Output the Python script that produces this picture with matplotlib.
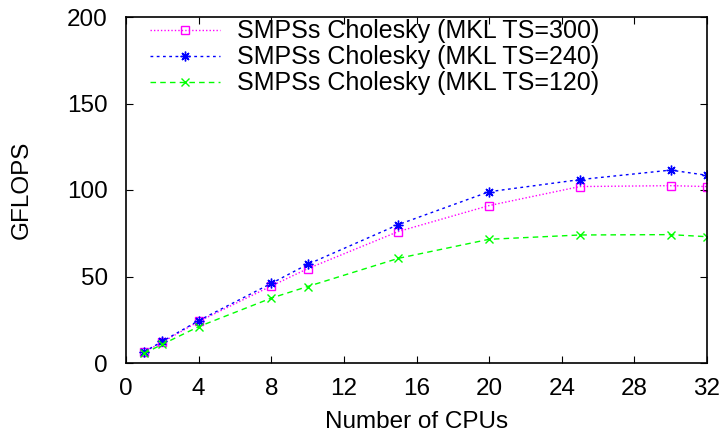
import matplotlib
matplotlib.use("Agg")
import matplotlib.pyplot as plt

plt.rcParams['font.family'] = ['Liberation Sans', 'DejaVu Sans']

cpus = [1, 2, 4, 8, 10, 15, 20, 25, 30, 32]
ts300 = [6.3, 12.0, 24.0, 44.5, 54.5, 76.0, 91.0, 102.0, 102.5, 102.0]
ts240 = [6.5, 12.5, 24.5, 46.0, 57.0, 80.0, 99.0, 106.0, 111.5, 108.5]
ts120 = [5.5, 10.8, 21.0, 37.5, 44.2, 60.5, 71.5, 74.0, 74.2, 73.0]
labels = ["SMPSs Cholesky (MKL TS=300)", "SMPSs Cholesky (MKL TS=240)",
          "SMPSs Cholesky (MKL TS=120)"]

fig = plt.figure(figsize=(7.26, 4.34), dpi=100)
ax = fig.add_axes([126 / 726, 1 - 363 / 434, (707 - 126) / 726, (363 - 17) / 434])

ax.plot(cpus, ts300, color='#ff00ff', linestyle=(0, (1, 1.5)), linewidth=1,
        marker='s', markersize=6, markerfacecolor='none', markeredgewidth=1,
        label=labels[0])
ax.plot(cpus, ts240, color='#0000ff', linestyle=(0, (2, 2.5)), linewidth=1,
        marker=(8, 2, 0), markersize=7, markeredgewidth=1, label=labels[1])
ax.plot(cpus, ts120, color='#00ff00', linestyle=(0, (4, 3)), linewidth=1,
        marker='x', markersize=6, markeredgewidth=1, label=labels[2])

ax.set_xlim(0, 32)
ax.set_ylim(0, 200)
ax.set_xticks(range(0, 33, 4))
ax.set_yticks(range(0, 201, 50))
ax.tick_params(direction='in', top=True, right=True, length=5, width=0.8,
               labelsize=17.5)
ax.tick_params(axis='x', pad=11)
ax.tick_params(axis='y', pad=13)
for s in ax.spines.values():
    s.set_linewidth(1.2)
ax.set_xlabel("Number of CPUs", fontsize=17.5, labelpad=8)
ax.set_ylabel("GFLOPS", fontsize=17.5, labelpad=25)

ax.legend(loc='upper left', frameon=False, fontsize=18, handlelength=2.8,
          handletextpad=0.68, labelspacing=0.08, borderaxespad=0, borderpad=0,
          bbox_to_anchor=(24 / 581, 0.993))

fig.savefig("out.png", dpi=100)
